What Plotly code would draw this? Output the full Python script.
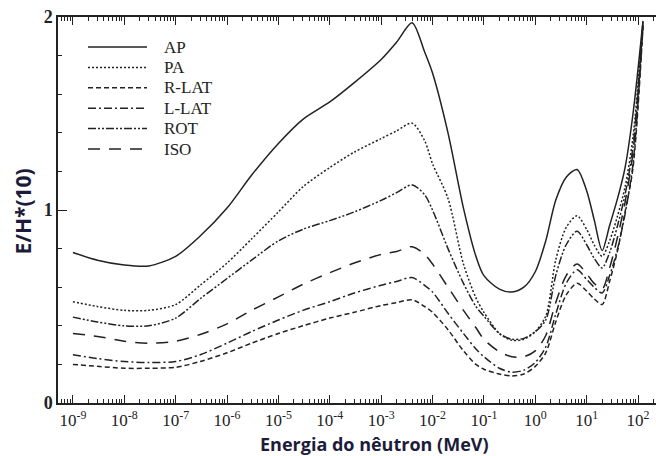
import plotly.graph_objects as go

# Neutron energy grid (MeV)
energy_mev = [1e-9, 3e-9, 1e-8, 3e-8, 1e-7, 3e-7, 1e-6, 3e-6, 1e-5, 3e-5,
              1e-4, 3e-4, 1e-3, 2e-3, 4e-3, 7e-3, 1e-2, 2e-2, 4e-2, 7e-2,
              0.1, 0.2, 0.35, 0.6, 1.0, 1.6, 2.5, 4.0, 6.5, 10.0,
              14.0, 20.0, 28.0, 40.0, 56.0, 80.0, 125.0]

# E/H*(10) per irradiation geometry
ap = [0.78, 0.74, 0.715, 0.71, 0.76, 0.865, 1.01, 1.18, 1.345, 1.47,
      1.56, 1.66, 1.78, 1.87, 1.97, 1.82, 1.71, 1.40, 1.01, 0.76,
      0.66, 0.59, 0.575, 0.60, 0.68, 0.84, 1.05, 1.17, 1.21, 1.10,
      0.95, 0.79, 0.92, 1.06, 1.22, 1.50, 1.98]
pa = [0.525, 0.50, 0.48, 0.48, 0.51, 0.61, 0.725, 0.85, 0.99, 1.12,
      1.22, 1.30, 1.37, 1.41, 1.45, 1.36, 1.24, 1.06, 0.72, 0.545,
      0.47, 0.36, 0.325, 0.33, 0.37, 0.45, 0.74, 0.91, 0.97, 0.90,
      0.82, 0.76, 0.84, 0.97, 1.12, 1.38, 1.98]
r_lat = [0.20, 0.19, 0.18, 0.18, 0.185, 0.215, 0.26, 0.31, 0.36, 0.40,
         0.44, 0.47, 0.505, 0.52, 0.535, 0.50, 0.47, 0.38, 0.27, 0.20,
         0.175, 0.15, 0.14, 0.15, 0.19, 0.26, 0.42, 0.56, 0.62, 0.58,
         0.54, 0.51, 0.63, 0.79, 0.99, 1.22, 1.95]
l_lat = [0.25, 0.23, 0.215, 0.21, 0.215, 0.25, 0.31, 0.37, 0.43, 0.48,
         0.525, 0.57, 0.61, 0.63, 0.65, 0.61, 0.575, 0.465, 0.36, 0.28,
         0.24, 0.18, 0.16, 0.17, 0.21, 0.29, 0.46, 0.62, 0.69, 0.64,
         0.60, 0.57, 0.66, 0.80, 0.98, 1.24, 1.96]
rot = [0.445, 0.42, 0.40, 0.40, 0.44, 0.54, 0.645, 0.74, 0.84, 0.90,
       0.945, 0.99, 1.05, 1.09, 1.13, 1.08, 1.00, 0.80, 0.62, 0.50,
       0.45, 0.36, 0.33, 0.335, 0.37, 0.43, 0.66, 0.82, 0.89, 0.82,
       0.75, 0.70, 0.78, 0.92, 1.08, 1.33, 1.97]
iso = [0.36, 0.345, 0.32, 0.31, 0.32, 0.355, 0.41, 0.48, 0.55, 0.615,
       0.675, 0.725, 0.77, 0.785, 0.81, 0.77, 0.72, 0.60, 0.48, 0.39,
       0.33, 0.265, 0.24, 0.24, 0.27, 0.35, 0.52, 0.66, 0.72, 0.67,
       0.62, 0.59, 0.70, 0.86, 1.04, 1.30, 1.96]

series_names = ["AP", "PA", "R-LAT", "L-LAT", "ROT", "ISO"]
series_values = [ap, pa, r_lat, l_lat, rot, iso]
series_dash = ["solid", "2px,2px", "5px,3px", "8px,3px,2px,3px",
               "8px,2px,2px,2px,2px,2px", "12px,9px"]

x_tick_vals = [1e-9, 1e-8, 1e-7, 1e-6, 1e-5, 1e-4, 1e-3, 1e-2, 1e-1, 1e0, 1e1, 1e2]
x_tick_text = ["10<sup>-9</sup>", "10<sup>-8</sup>", "10<sup>-7</sup>", "10<sup>-6</sup>",
               "10<sup>-5</sup>", "10<sup>-4</sup>", "10<sup>-3</sup>", "10<sup>-2</sup>",
               "10<sup>-1</sup>", "10<sup>0</sup>", "10<sup>1</sup>", "10<sup>2</sup>"]
y_tick_vals = [0, 1, 2]

INK = "#222222"
TITLE_INK = "#1c1c3a"

# Figure geometry (pixels) used to place the key in paper coordinates
W, H = 656, 456
M_L, M_R, M_T, M_B = 58, 0, 17, 53
PLOT_W = W - M_L - M_R
PLOT_H = H - M_T - M_B


def px_to_paper_x(px):
    return (px - M_L) / PLOT_W


def px_to_paper_y(py):
    return 1 - (py - M_T) / PLOT_H


fig = go.Figure()
for name, vals, dash in zip(series_names, series_values, series_dash):
    fig.add_trace(go.Scatter(
        x=energy_mev, y=vals, name=name, mode="lines", showlegend=False,
        line=dict(color=INK, width=1.5, dash=dash, shape="spline", smoothing=0.8),
    ))

# Key in the upper-left corner: line sample plus label per geometry
key_shapes = []
key_notes = []
for i, (name, dash) in enumerate(zip(series_names, series_dash)):
    row_y = px_to_paper_y(47 + i * 20.4)
    key_shapes.append(dict(
        type="line", xref="paper", yref="paper",
        x0=px_to_paper_x(88), x1=px_to_paper_x(147), y0=row_y, y1=row_y,
        line=dict(color=INK, width=1.5, dash=dash),
    ))
    key_notes.append(dict(
        text=name, xref="paper", yref="paper",
        x=px_to_paper_x(162), y=row_y, xanchor="left", yanchor="middle",
        showarrow=False,
        font=dict(family="Liberation Serif", size=17, color=INK),
    ))

fig.update_layout(
    width=W, height=H,
    margin=dict(l=M_L, r=M_R, t=M_T, b=M_B),
    paper_bgcolor="white", plot_bgcolor="white",
    showlegend=False,
    xaxis=dict(
        type="log", range=[-9.29, 2.35],
        showgrid=False, zeroline=False,
        showline=True, linecolor=INK, linewidth=1.5, mirror="allticks",
        ticks="inside", ticklen=8, tickwidth=1.2, tickcolor=INK,
        tickvals=x_tick_vals, ticktext=x_tick_text,
        tickfont=dict(family="Liberation Serif", size=17, color=INK),
        ticklabelstandoff=1,
        minor=dict(ticks="inside", ticklen=4, tickwidth=1, tickcolor=INK, dtick="D1"),
    ),
    yaxis=dict(
        range=[0, 2],
        showgrid=False, zeroline=False,
        showline=True, linecolor=INK, linewidth=1.5, mirror=False,
        ticks="inside", ticklen=9, tickwidth=1.2, tickcolor=INK,
        tickvals=y_tick_vals,
        tickfont=dict(family="Liberation Serif", size=18, color=INK, weight="bold"),
        minor=dict(ticks="inside", ticklen=4, tickwidth=1, tickcolor=INK, dtick=0.2),
    ),
    shapes=key_shapes,
    annotations=key_notes + [
        dict(text="Energia do nêutron (MeV)", xref="paper", yref="paper",
             x=0.53, y=px_to_paper_y(443.5), xanchor="center", yanchor="middle",
             showarrow=False, borderpad=0,
             font=dict(family="Open Sans", size=18, color=TITLE_INK, weight="bold")),
        dict(text="E/H*(10)", xref="paper", yref="paper",
             x=px_to_paper_x(22.5), y=px_to_paper_y(212), xanchor="center", yanchor="middle",
             showarrow=False, textangle=-90,
             font=dict(family="Open Sans", size=21, color=TITLE_INK, weight="bold")),
    ],
)

fig.write_html("out.html")
